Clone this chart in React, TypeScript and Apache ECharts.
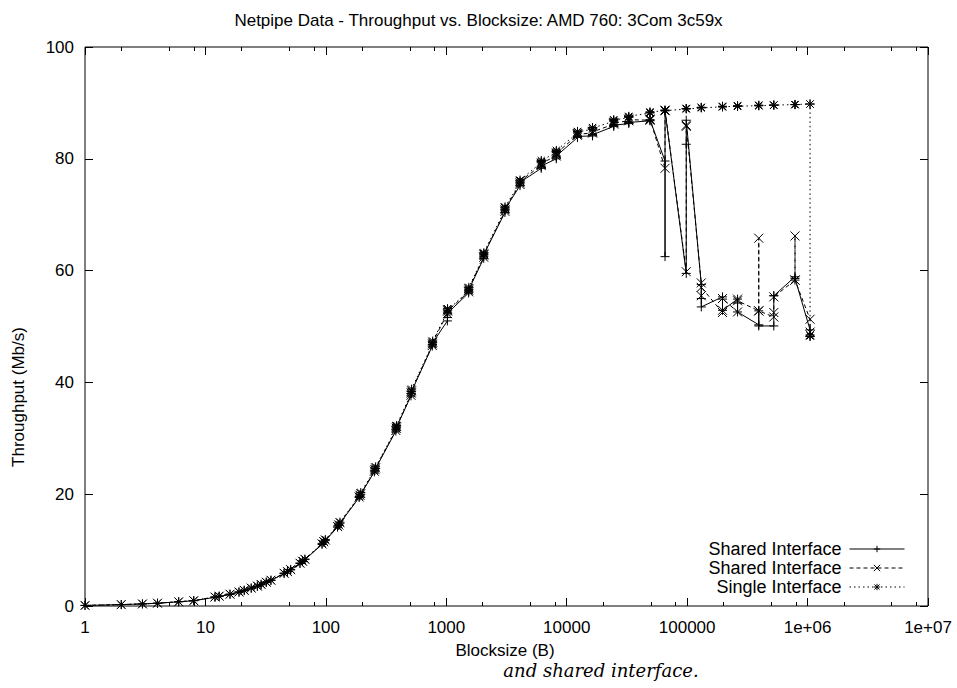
import React, { useEffect, useRef } from "react";
import * as echarts from "echarts";

// Block sizes (bytes) as measured by NetPIPE (perturbation ±3 around each size)
const blockSizes = [
  1, 2, 3, 4, 6, 8, 12,
  13, 16, 19, 21, 24, 27, 29, 32, 35, 45, 48, 51, 61, 64, 67,
  93, 96, 99, 125, 128, 131, 189, 192, 195, 253, 256, 259,
  381, 384, 387, 509, 512, 515, 765, 768, 771, 1021, 1024, 1027,
  1533, 1536, 1539, 2045, 2048, 2051, 3069, 3072, 3075, 4093, 4096, 4099,
  6141, 6144, 6147, 8189, 8192, 8195, 12285, 12288, 12291, 16381, 16384, 16387,
  24573, 24576, 24579, 32765, 32768, 32771, 49149, 49152, 49155,
  65533, 65536, 65539, 98301, 98304, 98307, 131069, 131072, 131075,
  196605, 196608, 196611, 262141, 262144, 262147, 393213, 393216, 393219,
  524285, 524288, 524291, 786429, 786432, 786435, 1048573, 1048576, 1048579,
];

// Throughput (Mb/s)
const sharedSolid = [
  0.1, 0.25, 0.37, 0.5, 0.75, 0.95, 1.55,
  1.7, 2.05, 2.45, 2.75, 3.15, 3.5, 3.8, 4.2, 4.55, 5.8, 6.1, 6.45, 7.6, 7.95, 8.3,
  11.0, 11.4, 11.7, 14.1, 14.4, 14.8, 19.4, 19.7, 20.0, 24.0, 24.3, 24.6,
  31.3, 31.7, 32.0, 37.6, 38.0, 38.4, 46.5, 46.8, 47.1, 51.0, 51.6, 52.4,
  56.0, 56.3, 56.6, 62.2, 62.6, 62.9, 70.4, 70.7, 71.0, 75.2, 75.5, 75.8,
  78.3, 78.5, 78.7, 80.0, 80.3, 80.5, 83.8, 84.0, 84.1, 84.1, 84.3, 84.4,
  85.8, 86.0, 86.1, 86.3, 86.5, 86.6, 86.8, 86.9, 87.0,
  79.6, 62.5, 88.6, 59.5, 82.6, 86.9, 57.5, 55.0, 53.5,
  55.3, 54.9, 52.9, 54.9, 54.2, 52.6, 50.3, 52.8, 50.1,
  50.1, 55.5, 55.5, 58.9, 58.3, 58.6, 49.4, 48.2, 48.5,
];

const sharedDashed = [
  0.1, 0.25, 0.37, 0.5, 0.75, 0.95, 1.6,
  1.75, 2.1, 2.5, 2.8, 3.2, 3.55, 3.85, 4.25, 4.6, 5.85, 6.15, 6.5, 7.65, 8.0, 8.35,
  11.1, 11.5, 11.8, 14.2, 14.5, 14.9, 19.5, 19.8, 20.1, 24.1, 24.4, 24.7,
  31.4, 31.8, 32.1, 37.7, 38.1, 38.5, 46.6, 46.9, 47.2, 52.3, 53.0, 52.8,
  56.2, 56.5, 56.8, 62.4, 62.8, 63.0, 70.6, 70.9, 71.2, 75.4, 75.7, 76.0,
  78.8, 79.0, 79.2, 80.5, 80.8, 81.0, 84.2, 84.4, 84.5, 84.6, 84.8, 84.9,
  86.2, 86.4, 86.5, 86.8, 87.0, 87.1, 86.9, 87.0, 87.1,
  78.3, 88.7, 88.6, 59.8, 85.8, 86.0, 57.8, 55.5, 57.0,
  52.5, 52.9, 55.0, 52.6, 54.9, 54.6, 52.8, 65.8, 52.8,
  51.7, 52.5, 55.3, 58.3, 66.2, 58.3, 51.3, 49.0, 48.5,
];

const singleDotted = [
  0.1, 0.25, 0.38, 0.5, 0.77, 0.97, 1.65,
  1.8, 2.15, 2.55, 2.85, 3.25, 3.6, 3.9, 4.3, 4.65, 5.9, 6.2, 6.55, 7.7, 8.1, 8.4,
  11.2, 11.6, 11.9, 14.3, 14.6, 15.0, 19.6, 19.9, 20.3, 24.3, 24.6, 24.9,
  31.6, 32.0, 32.3, 38.0, 38.4, 38.8, 46.8, 47.1, 47.4, 52.6, 53.2, 52.9,
  56.4, 56.7, 57.0, 62.6, 63.0, 63.2, 70.9, 71.2, 71.4, 75.7, 76.0, 76.2,
  79.3, 79.5, 79.7, 81.1, 81.3, 81.5, 84.6, 84.8, 84.9, 85.3, 85.5, 85.6,
  86.7, 86.9, 87.0, 87.4, 87.5, 87.6, 88.2, 88.3, 88.4,
  88.6, 88.7, 88.7, 88.9, 89.0, 89.0, 89.1, 89.2, 89.2,
  89.3, 89.3, 89.4, 89.4, 89.4, 89.5, 89.5, 89.5, 89.6,
  89.6, 89.6, 89.6, 89.7, 89.7, 89.7, 89.8, 89.8, 48.3,
];

const xMajorTicks = [1, 10, 100, 1000, 10000, 100000, 1000000, 10000000];
const xMinorTicks = [
  2, 5, 8, 20, 50, 80, 200, 500, 800, 2000, 5000, 8000,
  20000, 50000, 80000, 200000, 500000, 800000, 2000000, 5000000, 8000000,
];
const yTicks = [0, 20, 40, 60, 80, 100];

const seriesNames = ["Shared Interface#1", "Shared Interface#2", "Single Interface#3"];

const TITLE = "Netpipe Data - Throughput vs. Blocksize: AMD 760: 3Com 3c59x";
const FONT = "'Liberation Sans', Arial, Helvetica, sans-serif";

const PLUS = "path://M0,5L10,5M5,0L5,10";
const CROSS = "path://M0,0L10,10M10,0L0,10";
const STAR = "path://M0,5L10,5M5,0L5,10M1,1L9,9M9,1L1,9";

function fmtX(v: number): string {
  const e = Math.round(Math.log10(v));
  if (e >= 6) return "1e+0" + e;
  return String(Math.round(v));
}

export default function App() {
  const ref = useRef<HTMLDivElement>(null);
  useEffect(() => {
    if (!ref.current) return;
    const chart = echarts.init(ref.current, null, { renderer: "svg" });

    const xBase = (position: string, ticks: number[], len: number, labels: boolean) => ({
      type: "log",
      logBase: 10,
      min: 1,
      max: 10000000,
      position,
      gridIndex: 0,
      axisLine: { show: false },
      splitLine: { show: false },
      axisTick: {
        show: true,
        inside: true,
        length: len,
        customValues: ticks,
        lineStyle: { color: "#000", width: 1 },
      },
      axisLabel: labels
        ? {
            show: true,
            customValues: ticks,
            formatter: fmtX,
            margin: 13,
            fontSize: 17,
            color: "#000",
            fontFamily: FONT,
            hideOverlap: false,
          }
        : { show: false },
    });

    const yBase = (position: string, labels: boolean) => ({
      type: "value",
      min: 0,
      max: 100,
      interval: 20,
      position,
      axisLine: { show: false },
      splitLine: { show: false },
      axisTick: {
        show: true,
        inside: true,
        length: 8,
        customValues: yTicks,
        lineStyle: { color: "#000", width: 1 },
      },
      axisLabel: labels
        ? {
            show: true,
            customValues: yTicks,
            margin: 11,
            fontSize: 17,
            color: "#000",
            fontFamily: FONT,
          }
        : { show: false },
    });

    const mk = (name: string, vals: number[], symbol: string, type: any) => ({
      name,
      type: "line",
      xAxisIndex: 0,
      yAxisIndex: 0,
      data: blockSizes.map((b, i) => [b, vals[i]]),
      symbol,
      symbolSize: 9,
      showAllSymbol: true,
      silent: true,
      lineStyle: { color: "#000", width: 1, type },
      itemStyle: { color: "#000", borderColor: "#000", borderWidth: 1 },
      emphasis: { disabled: true },
    });

    chart.setOption({
      animation: false,
      backgroundColor: "#fff",
      title: {
        text: TITLE,
        left: "center",
        top: 7,
        textStyle: { fontSize: 17, fontWeight: "normal", color: "#000", fontFamily: FONT },
      },
      grid: {
        left: 85,
        right: 29,
        top: 47,
        bottom: 82,
        show: true,
        borderColor: "#000",
        borderWidth: 1,
        backgroundColor: "transparent",
      },
      legend: {
        orient: "vertical",
        align: "right",
        right: 52,
        top: 540,
        padding: 0,
        itemWidth: 55,
        itemHeight: 8,
        itemGap: 1,
        selectedMode: false,
        data: seriesNames,
        formatter: (n: string) => n.split("#")[0],
        lineStyle: { width: 1 },
        itemStyle: { borderWidth: 1 },
        textStyle: { fontSize: 18, color: "#000", fontFamily: FONT, padding: [0, 3, 0, 0] },
      },
      xAxis: [
        xBase("bottom", xMajorTicks, 8, true),
        xBase("bottom", xMinorTicks, 4, false),
        xBase("top", xMajorTicks, 8, false),
        xBase("top", xMinorTicks, 4, false),
      ],
      yAxis: [yBase("left", true), yBase("right", false)],
      series: [
        mk(seriesNames[0], sharedSolid, PLUS, "solid"),
        mk(seriesNames[1], sharedDashed, CROSS, [4, 3]),
        mk(seriesNames[2], singleDotted, STAR, [1.5, 3]),
      ],
      graphic: [
        {
          type: "text",
          x: 18,
          y: 397,
          rotation: Math.PI / 2,
          style: {
            text: "Throughput (Mb/s)",
            fontSize: 17,
            fontFamily: FONT,
            fill: "#000",
            align: "center",
            verticalAlign: "middle",
          },
        },
        {
          type: "text",
          x: 505,
          y: 650,
          style: {
            text: "Blocksize (B)",
            fontSize: 17,
            fontFamily: FONT,
            fill: "#000",
            align: "center",
            verticalAlign: "middle",
          },
        },
        {
          type: "text",
          x: 601,
          y: 670,
          style: {
            text: "and shared interface.",
            fontSize: 18,
            fontStyle: "italic",
            fontFamily: "'DejaVu Serif', 'Liberation Serif', serif",
            fill: "#000",
            align: "center",
            verticalAlign: "middle",
          },
        },
      ],
    });
    return () => chart.dispose();
  }, []);
  return (
    <div
      ref={ref}
      style={{ position: "absolute", left: 0, top: 0, width: 957, height: 688 }}
    />
  );
}
